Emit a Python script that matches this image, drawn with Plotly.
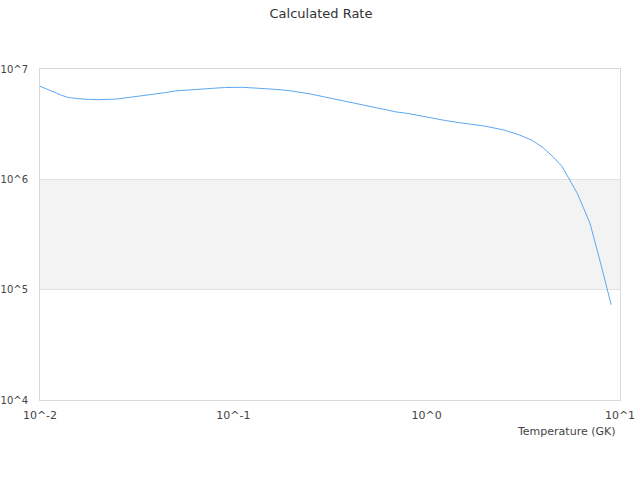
import plotly.graph_objects as go

# temperature grid (GK) and calculated rate (log10)
temperature = [0.01, 0.011, 0.012, 0.013, 0.014, 0.015, 0.016, 0.018, 0.02, 0.025,
               0.03, 0.035, 0.04, 0.045, 0.05, 0.06, 0.07, 0.08, 0.09, 0.1,
               0.11, 0.12, 0.13, 0.14, 0.15, 0.16, 0.18, 0.2, 0.25, 0.3,
               0.35, 0.4, 0.45, 0.5, 0.6, 0.7, 0.8, 0.9, 1.0, 1.25,
               1.5, 1.75, 2.0, 2.5, 3.0, 3.5, 4.0, 4.5, 5.0, 6.0,
               7.0, 8.0, 9.0]
log_rate = [6.844, 6.812, 6.785, 6.760, 6.742, 6.734, 6.730, 6.724, 6.722, 6.728,
            6.746, 6.760, 6.772, 6.787, 6.801, 6.813, 6.819, 6.826, 6.832, 6.836,
            6.834, 6.831, 6.829, 6.825, 6.821, 6.817, 6.810, 6.801, 6.774, 6.745,
            6.721, 6.700, 6.682, 6.665, 6.636, 6.610, 6.597, 6.580, 6.563, 6.533,
            6.512, 6.499, 6.482, 6.448, 6.404, 6.355, 6.287, 6.205, 6.119, 5.877,
            5.600, 5.218, 4.863]
rate = [10 ** v for v in log_rate]

x_ticks = [0.01, 0.1, 1, 10]
x_tick_text = ["10^-2", "10^-1", "10^0", "10^1"]
y_ticks = [1e4, 1e5, 1e6, 1e7]
y_tick_text = ["10^4", "10^5", "10^6", "10^7"]

FONT = "DejaVu Sans, Verdana, sans-serif"

fig = go.Figure()
fig.add_trace(go.Scatter(
    x=temperature,
    y=rate,
    mode="lines",
    line=dict(color="#5ea8f2", width=1),
    hoverinfo="x+y",
    showlegend=False
))

# shaded band between 10^5 and 10^6 (middle third of the y range)
fig.add_shape(type="rect", xref="paper", yref="y domain",
              x0=0, x1=1, y0=1/3, y1=2/3,
              fillcolor="#f3f3f3", line_width=0, layer="below")

fig.update_layout(
    width=640, height=480,
    margin=dict(l=40, r=20, t=69, b=80),
    paper_bgcolor="white",
    plot_bgcolor="white",
    font=dict(family=FONT, size=11, color="#444"),
    title=dict(text="Calculated Rate", x=321 / 640, xanchor="center",
               y=1 - 13 / 480, yanchor="middle",
               font=dict(family=FONT, size=13, color="#333")),
    xaxis=dict(
        type="log", range=[-2, 1], automargin=False,
        tickmode="array", tickvals=x_ticks, ticktext=x_tick_text,
        showgrid=False, zeroline=False,
        showline=True, linecolor="#d9d9d9", linewidth=1, mirror=True,
        ticks="", ticklabelstandoff=5, tickfont=dict(size=11, color="#444")
    ),
    yaxis=dict(
        type="log", range=[4, 7], automargin=False,
        tickmode="array", tickvals=y_ticks, ticktext=y_tick_text,
        showgrid=True, gridcolor="#e3e3e3", gridwidth=1, zeroline=False,
        showline=True, linecolor="#d9d9d9", linewidth=1, mirror=True,
        ticks="", ticklabelstandoff=9, tickfont=dict(size=10, color="#444")
    ),
    annotations=[dict(
        text="Temperature (GK)", xref="paper", yref="paper",
        x=578 / 580, y=-31 / 331, xanchor="right", yanchor="middle",
        showarrow=False, font=dict(family=FONT, size=11, color="#444")
    )]
)

# drop the page's default body margin so the figure sits in the window corner
fig.write_html("out.html", config={"displayModeBar": False},
               post_script="document.body.style.margin='0';")
